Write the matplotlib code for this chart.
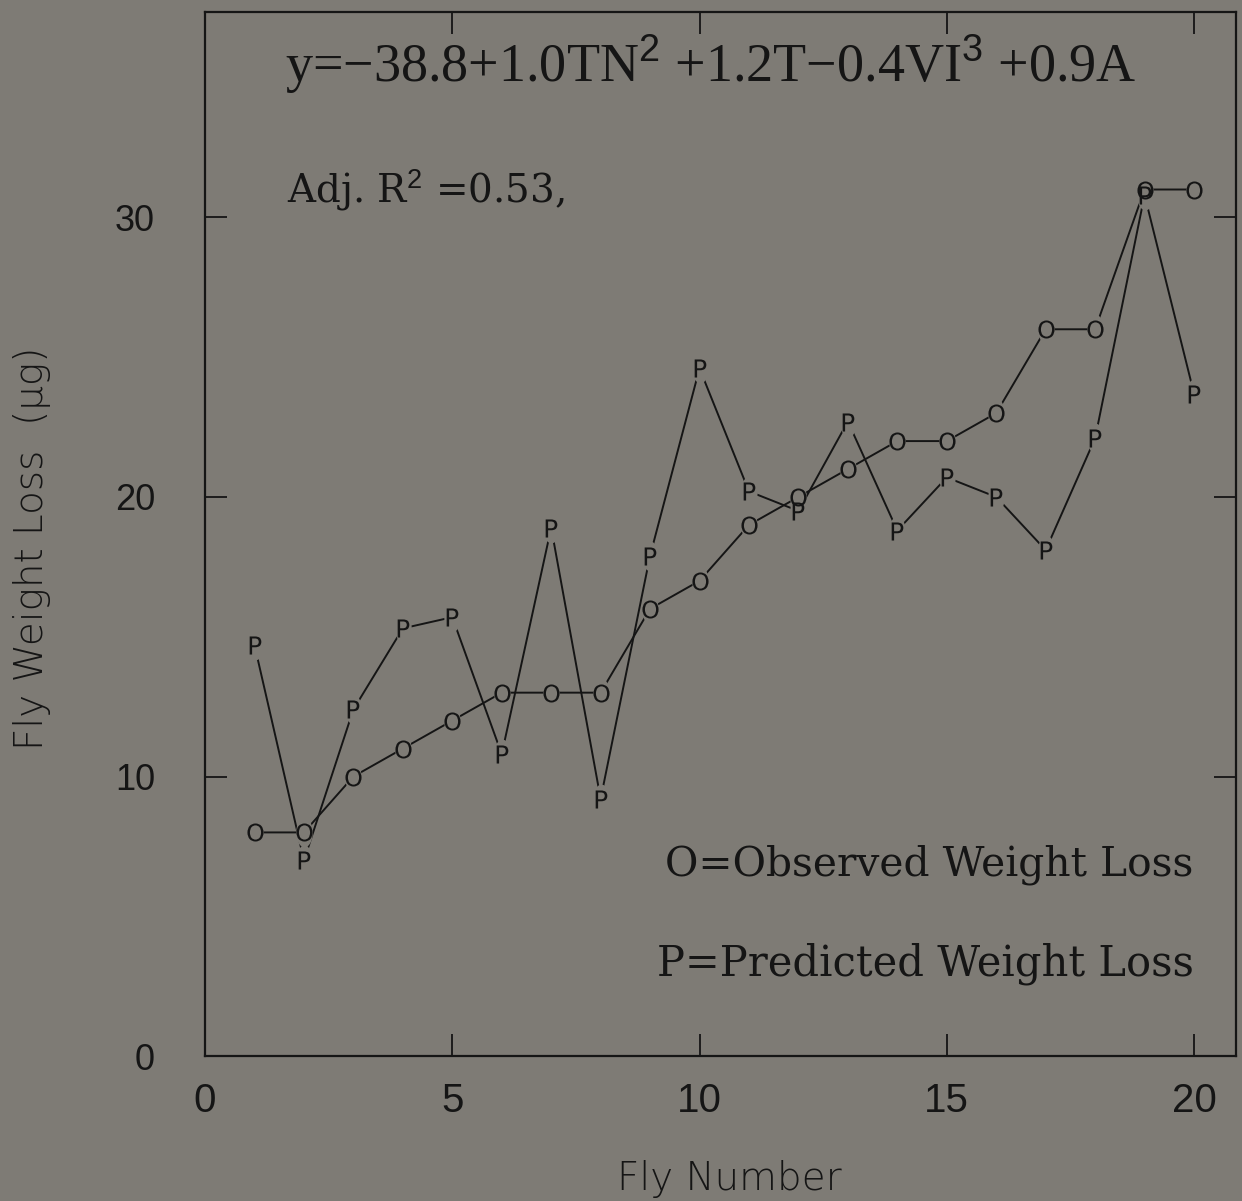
import matplotlib.pyplot as plt
import numpy as np

fly_number = list(range(1, 21))
observed_loss = [8, 8, 10, 11, 12, 13, 13, 13, 16, 17,
                 19, 20, 21, 22, 22, 23, 26, 26, 31, 31]
predicted_loss = [14.7, 7.0, 12.4, 15.3, 15.7, 10.8, 18.9, 9.2, 17.9, 24.6,
                  20.2, 19.5, 22.7, 18.8, 20.7, 20.0, 18.1, 22.1, 30.8, 23.7]
x_ticks = [0, 5, 10, 15, 20]
y_ticks = [0, 10, 20, 30]

paper = "#7e7b75"
ink = "#151515"

plt.rcParams["mathtext.fontset"] = "custom"
plt.rcParams["mathtext.rm"] = "Liberation Sans"
plt.rcParams["mathtext.sf"] = "DejaVu Sans"

fig = plt.figure(figsize=(12.42, 12.01), dpi=100, facecolor=paper)
ax = fig.add_axes([0.1651, 0.1207, 0.8301, 0.8693], facecolor=paper)
ax.set_xlim(0, 20.85)
ax.set_ylim(0, 37.35)

# tall oval that blanks the connecting line around each letter
t = np.linspace(0, 2 * np.pi, 40)
oval = np.column_stack([0.55 * np.cos(t), np.sin(t)])

for values in (observed_loss, predicted_loss):
    ax.plot(fly_number, values, color=ink, lw=1.4, zorder=1)
    ax.plot(fly_number, values, ls="none", marker=oval, ms=21.5,
            mfc=paper, mec=paper, mew=0, zorder=2)
for values, letter in [(observed_loss, "O"), (predicted_loss, "P")]:
    ax.plot(fly_number, values, ls="none", marker=r"$\mathsf{%s}$" % letter,
            ms=13, mfc=ink, mec=ink, mew=0, zorder=3)

ax.set_xticks(x_ticks)
ax.set_yticks(y_ticks)
ax.tick_params(direction="in", length=16, width=1.3, top=True, right=True,
               color=ink, labelcolor=ink)
ax.tick_params(axis="x", pad=19)
ax.tick_params(axis="y", pad=36)
for lab in ax.get_xticklabels():
    lab.set_fontfamily("Liberation Sans")
    lab.set_fontsize(29)
for lab in ax.get_yticklabels():
    lab.set_fontfamily("Liberation Sans")
    lab.set_fontsize(26)
for sp in ax.spines.values():
    sp.set_color(ink)
    sp.set_linewidth(1.6)

fig.text(729 / 1242, 11 / 1201, "Fly Number", ha="center", va="baseline",
         fontsize=28, color=ink, family="DejaVu Sans", weight="light")
fig.text(32 / 1242, 1 - 548 / 1201, "Fly Weight Loss  (\u03bcg)", rotation=90,
         ha="center", va="center", fontsize=28, color=ink,
         family="DejaVu Sans", weight="light")

ax.text(0.0776, 0.933,
        "y=\u221238.8+1.0TN$^{2}$ +1.2T\u22120.4VI$^{3}$ +0.9A",
        transform=ax.transAxes, ha="left", va="baseline", fontsize=39,
        family="Liberation Serif", color=ink)
ax.text(0.0795, 0.818, "Adj. R$^{2}$ =0.53,", transform=ax.transAxes,
        ha="left", va="baseline", fontsize=28, family="DejaVu Serif", color=ink)
ax.text(0.446, 0.1734, "O=Observed Weight Loss", transform=ax.transAxes,
        ha="left", va="baseline", fontsize=29.3, family="DejaVu Serif", color=ink)
ax.text(0.4384, 0.0776, "P=Predicted Weight Loss", transform=ax.transAxes,
        ha="left", va="baseline", fontsize=30, family="DejaVu Serif", color=ink)

fig.savefig("out.png", dpi=100, facecolor=paper)
